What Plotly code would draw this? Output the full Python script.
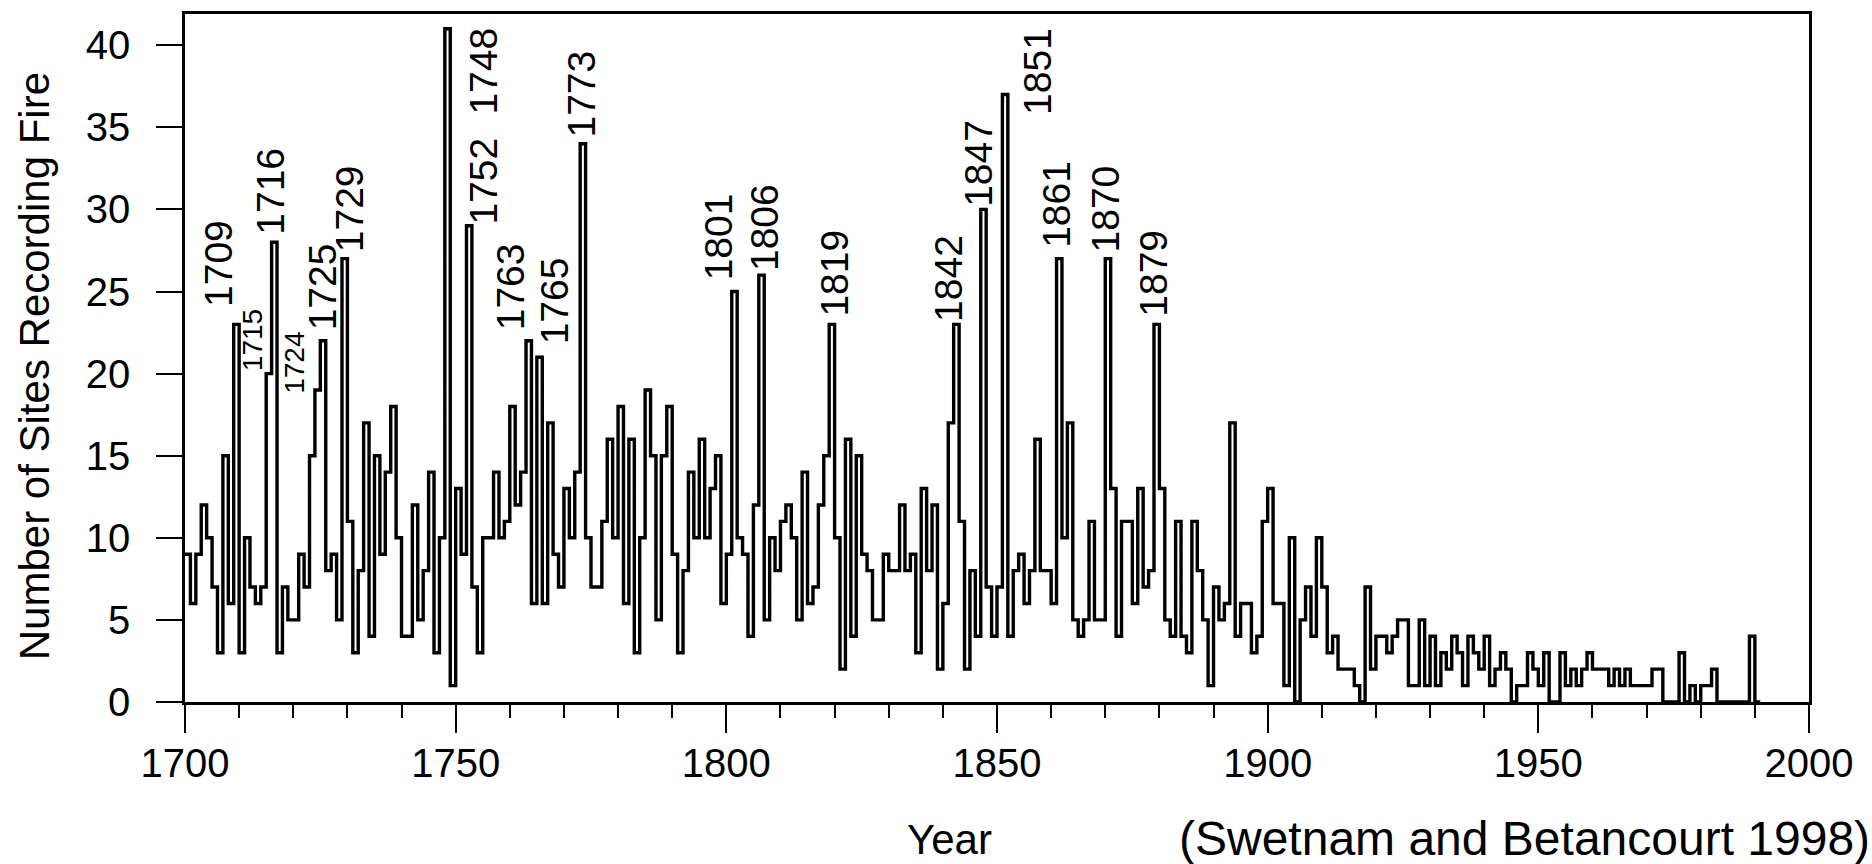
import plotly.graph_objects as go

# ---------------- data ----------------
years = list(range(1700, 1991))
sites = [
    9, 6, 9, 12, 10, 7, 3, 15, 6, 23,      # 1700s
    3, 10, 7, 6, 7, 20, 28, 3, 7, 5,       # 1710s
    5, 9, 7, 15, 19, 22, 8, 9, 5, 27,      # 1720s
    11, 3, 8, 17, 4, 15, 9, 14, 18, 10,    # 1730s
    4, 4, 12, 5, 8, 14, 3, 10, 41, 1,      # 1740s
    13, 9, 29, 7, 3, 10, 10, 14, 10, 11,   # 1750s
    18, 12, 14, 22, 6, 21, 6, 17, 9, 7,    # 1760s
    13, 10, 14, 34, 10, 7, 7, 11, 16, 10,  # 1770s
    18, 6, 16, 3, 10, 19, 15, 5, 15, 18,   # 1780s
    9, 3, 8, 14, 10, 16, 10, 13, 15, 6,    # 1790s
    9, 25, 10, 9, 4, 12, 26, 5, 10, 8,     # 1800s
    11, 12, 10, 5, 14, 6, 7, 12, 15, 23,   # 1810s
    10, 2, 16, 4, 15, 9, 8, 5, 5, 9,       # 1820s
    8, 8, 12, 8, 9, 3, 13, 8, 12, 2,       # 1830s
    6, 17, 23, 11, 2, 8, 4, 30, 7, 4,      # 1840s
    7, 37, 4, 8, 9, 6, 8, 16, 8, 8,        # 1850s
    6, 27, 10, 17, 5, 4, 5, 11, 5, 5,      # 1860s
    27, 13, 4, 11, 11, 6, 13, 7, 8, 23,    # 1870s
    13, 5, 4, 11, 4, 3, 11, 8, 5, 1,       # 1880s
    7, 5, 6, 17, 4, 6, 6, 3, 4, 11,        # 1890s
    13, 6, 6, 1, 10, 0, 5, 7, 4, 10,       # 1900s
    7, 3, 4, 2, 2, 2, 1, 0, 7, 2,          # 1910s
    4, 4, 3, 4, 5, 5, 1, 1, 5, 1,          # 1920s
    4, 1, 3, 2, 4, 3, 1, 4, 3, 2,          # 1930s
    4, 1, 2, 3, 2, 0, 1, 1, 3, 2,          # 1940s
    1, 3, 0, 0, 3, 1, 2, 1, 2, 3,          # 1950s
    2, 2, 2, 1, 2, 1, 2, 1, 1, 1,          # 1960s
    1, 2, 2, 0, 0, 0, 3, 0, 1, 0,          # 1970s
    1, 1, 2, 0, 0, 0, 0, 0, 0, 4,          # 1980s
    0,                                     # 1990
]

label_years = [1709, 1715, 1716, 1724, 1725, 1729, 1748, 1752, 1763, 1765,
               1773, 1801, 1806, 1819, 1842, 1847, 1851, 1861, 1870, 1879]
small_label_years = [1715, 1724]

x_ticks = [1700, 1750, 1800, 1850, 1900, 1950, 2000]
y_ticks = [0, 5, 10, 15, 20, 25, 30, 35, 40]

# label placement relative to each labelled peak (years, sites)
label_dx = [-2.8, -2.4, -0.2, -3.7, 0.3, 1.3, 7.1, 3.1, -2.8, 3.2,
            0.2, -2.5, 1.1, 0.95, -1.1, -0.4, 6.5, 0.0, 0.0, -0.1]
label_dy = [1.0, 0.1, 0.4, -0.3, 0.6, 0.3, -5.3, 0.0, 0.6, 0.7,
            0.3, 0.6, 0.2, 0.4, 0.1, 0.1, -1.3, 0.6, 0.3, 0.4]

FONT = "Liberation Sans, Arial, sans-serif"

# step line: each year's value holds from that year to the next
step_x = years + [years[-1] + 1]
step_y = sites + [sites[-1]]

fig = go.Figure()
fig.add_trace(go.Scatter(
    x=step_x, y=step_y, mode="lines", line_shape="hv",
    line=dict(color="black", width=3.4), showlegend=False, hoverinfo="skip",
))

value_of = dict(zip(years, sites))
annotations = []
for yr, dx, dy in zip(label_years, label_dx, label_dy):
    annotations.append(dict(
        x=yr + dx, y=value_of[yr] + dy, xref="x", yref="y",
        text=str(yr), showarrow=False, textangle=-90,
        xanchor="center", yanchor="bottom", borderpad=0,
        font=dict(family=FONT, size=28 if yr in small_label_years else 39,
                  color="black"),
    ))

annotations += [
    dict(text="Number of Sites Recording Fire", xref="paper", yref="paper",
         x=-0.093, y=0.488, textangle=-90, showarrow=False,
         xanchor="center", yanchor="middle",
         font=dict(family=FONT, size=42, color="black")),
    dict(text="Year", xref="paper", yref="paper", x=0.471, y=-0.20,
         showarrow=False, xanchor="center", yanchor="middle",
         font=dict(family=FONT, size=42, color="black")),
    dict(text="(Swetnam and Betancourt 1998)", xref="paper", yref="paper",
         x=1.039, y=-0.198, showarrow=False, xanchor="right", yanchor="middle",
         font=dict(family=FONT, size=48, color="black")),
]

axis_common = dict(
    showline=True, linecolor="black", linewidth=2.5, mirror=True,
    ticks="outside", tickcolor="black", tickwidth=2,
    showgrid=False, zeroline=False,
    tickfont=dict(family=FONT, size=40, color="black"),
)

fig.update_layout(
    width=1872, height=864,
    margin=dict(l=185, r=63, t=14, b=162),
    paper_bgcolor="white", plot_bgcolor="white",
    annotations=annotations,
    xaxis=dict(range=[1700, 2000], tickvals=x_ticks, ticklen=28,
               ticklabelstandoff=-4,
               minor=dict(dtick=10, tick0=1700, ticks="outside", ticklen=13,
                          tickwidth=2, tickcolor="black"),
               **axis_common),
    yaxis=dict(range=[0, 41.9], tickvals=y_ticks, ticklen=26,
               ticklabelstandoff=18, **axis_common),
)

fig.write_html("out.html")
